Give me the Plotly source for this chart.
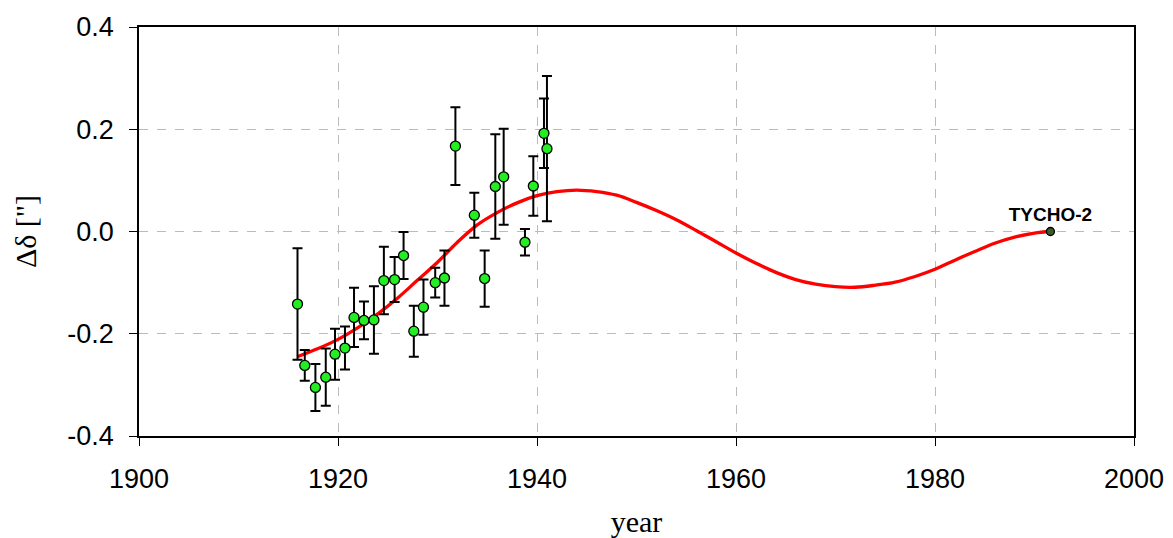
import plotly.graph_objects as go

# Observations
obs_year = [1915.93, 1916.66, 1917.73, 1918.77, 1919.70, 1920.70, 1921.61, 1922.61,
            1923.61, 1924.61, 1925.69, 1926.59, 1927.62, 1928.59, 1929.77, 1930.70,
            1931.80, 1933.70, 1934.74, 1935.81, 1936.65, 1938.79, 1939.63, 1940.70,
            1941.00]
obs_val = [-0.142, -0.262, -0.305, -0.285, -0.240, -0.228, -0.168, -0.174,
           -0.173, -0.096, -0.094, -0.047, -0.195, -0.148, -0.100, -0.091,
           0.167, 0.032, -0.092, 0.088, 0.107, -0.021, 0.089, 0.192,
           0.162]
obs_err = [0.109, 0.030, 0.046, 0.056, 0.050, 0.042, 0.058, 0.037,
           0.066, 0.066, 0.044, 0.046, 0.050, 0.054, 0.029, 0.054,
           0.076, 0.044, 0.055, 0.102, 0.094, 0.026, 0.058, 0.068,
           0.142]

# Fitted curve
fit_year = [1915.9, 1918, 1920, 1922, 1924, 1926, 1928, 1930, 1932, 1934, 1936, 1938,
            1940, 1942, 1944, 1946, 1948, 1950, 1952, 1954, 1956, 1958, 1960, 1962,
            1964, 1966, 1968, 1970, 1972, 1974, 1976, 1978, 1980, 1982, 1984, 1986,
            1988, 1990, 1991.6]
fit_val = [-0.245, -0.229, -0.211, -0.188, -0.161, -0.130, -0.095, -0.060, -0.021,
           0.013, 0.037, 0.056, 0.070, 0.078, 0.081, 0.078, 0.071, 0.057, 0.041,
           0.023, 0.002, -0.020, -0.042, -0.062, -0.080, -0.094, -0.103, -0.108,
           -0.109, -0.105, -0.099, -0.088, -0.074, -0.056, -0.039, -0.023, -0.011,
           -0.003, 0.0]

tycho_year = [1991.6]
tycho_val = [0.0]
tycho_label = ["<b>TYCHO-2</b>"]

x_ticks = [1900, 1920, 1940, 1960, 1980, 2000]
y_ticks = [-0.4, -0.2, 0.0, 0.2, 0.4]
y_tick_text = ["-0.4", "-0.2", "0.0", "0.2", "0.4"]

fig = go.Figure()

fig.add_trace(go.Scatter(
    x=fit_year, y=fit_val, mode="lines",
    line=dict(color="#ff0000", width=3.3, shape="spline"),
    hoverinfo="skip", showlegend=False))

fig.add_trace(go.Scatter(
    x=obs_year, y=obs_val, mode="markers",
    marker=dict(color="#22ee22", size=10, line=dict(color="black", width=1.3)),
    error_y=dict(type="data", array=obs_err, visible=True, color="black",
                 thickness=2, width=5),
    showlegend=False))

fig.add_trace(go.Scatter(
    x=tycho_year, y=tycho_val, mode="markers+text",
    marker=dict(color="#3d5a2a", size=8, line=dict(color="black", width=1.3)),
    text=tycho_label, textposition="top center",
    textfont=dict(family="Liberation Sans, Arial", size=19, color="black"),
    showlegend=False))

axis_common = dict(
    showline=True, linecolor="black", linewidth=1.5, mirror=True,
    ticks="outside", ticklen=8, tickwidth=1.3, tickcolor="black",
    showgrid=True, gridcolor="#bbbbbb", griddash="dash", gridwidth=1,
    zeroline=False, automargin=False,
    tickfont=dict(family="Liberation Sans, Arial", size=27, color="black"),
)

fig.update_xaxes(range=[1900, 2000], tickvals=x_ticks, ticklabelstandoff=10,
                 title=dict(text="year", font=dict(family="Liberation Serif, Times New Roman",
                                                    size=30, color="black"), standoff=19),
                 **axis_common)
fig.update_yaxes(range=[-0.4, 0.4], tickvals=y_ticks, ticktext=y_tick_text,
                 ticklabelstandoff=10,
                 title=dict(text='Δδ ["]', font=dict(family="Liberation Serif, Times New Roman",
                                                     size=30, color="black"), standoff=22),
                 **axis_common)

fig.update_layout(
    width=1165, height=530,
    margin=dict(l=131, r=39, t=19, b=102),
    plot_bgcolor="white", paper_bgcolor="white",
)

fig.write_html("out.html")
